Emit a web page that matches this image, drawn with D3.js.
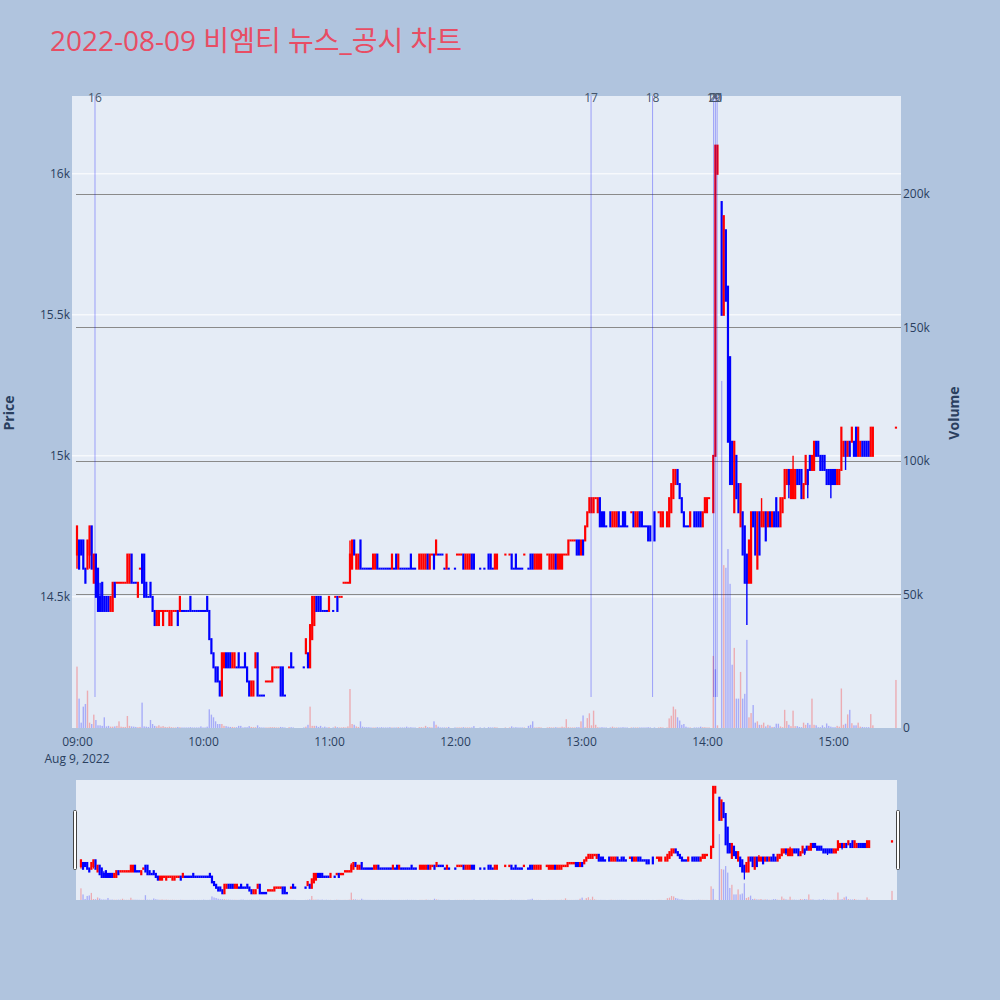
<!DOCTYPE html>
<html><head><meta charset="utf-8">
<script src="https://cdn.jsdelivr.net/npm/d3@7"></script>
<style>
body{margin:0;background:#b0c4de;}
svg{display:block;font-family:"Open Sans","Noto Sans CJK KR",sans-serif;}
</style>
</head><body>
<svg id="c" width="1000" height="1000"></svg>
<script>
// ---------------- DATA ----------------
const titleText = "2022-08-09 비엠티 뉴스_공시 차트";
const chartDate = [2022, 7, 9];
// minutes after 09:00 for every 1-minute candle
const minutesFrom0900 = [
0,1,2,3,4,5,6,7,8,9,
10,11,12,13,14,15,16,17,18,19,
20,21,22,23,24,25,26,27,28,29,
30,31,32,33,34,35,36,37,38,39,
40,41,42,43,44,45,46,47,48,49,
50,51,52,53,54,55,56,57,58,59,
60,61,62,63,64,65,66,67,68,69,
70,71,72,73,74,75,76,77,78,79,
80,81,82,83,84,85,86,87,88,89,
90,91,92,93,94,95,96,97,98,99,
101,102,103,108,109,110,111,112,113,114,
115,116,117,118,119,120,122,123,124,125,
126,127,128,129,130,131,132,133,134,135,
136,137,138,139,140,141,142,143,144,145,
146,147,148,149,150,151,152,153,154,155,
156,157,158,159,160,161,163,164,165,166,
167,168,169,170,171,172,173,174,175,176,
177,180,181,182,183,184,185,186,187,188,
189,192,194,196,197,198,199,200,204,206,
207,208,209,210,211,212,213,215,216,217,
218,219,220,221,224,225,226,227,228,229,
230,231,232,233,234,235,236,237,238,239,
240,241,242,243,244,245,246,247,248,249,
250,251,252,254,255,256,257,258,259,260,
261,262,264,265,266,267,268,269,270,271,
272,273,275,277,278,279,281,282,283,284,
285,286,287,288,289,290,291,292,294,295,
296,297,298,299,300,301,303,304,305,307,
308,309,310,311,312,313,314,315,316,317,
318,319,320,321,322,323,324,325,326,327,
328,329,330,331,332,333,334,335,336,337,
338,339,340,341,342,343,344,345,346,347,
348,349,350,351,352,353,354,355,356,357,
358,359,360,361,362,363,364,365,366,367,
368,369,370,371,372,373,374,375,376,377,
378,379,390];
const opens = [
14650,14700,14700,14700,14600,14600,14650,14750,14550,14650,
14600,14500,14550,14500,14500,14500,14450,14450,14550,14550,
14550,14550,14550,14550,14550,14550,14650,14550,14550,14500,
14600,14650,14650,14550,14500,14550,14500,14450,14400,14400,
14450,14400,14450,14450,14400,14400,14450,14450,14450,14450,
14450,14450,14450,14450,14500,14450,14450,14450,14450,14450,
14450,14450,14500,14450,14350,14300,14250,14250,14200,14150,
14250,14300,14300,14300,14250,14250,14250,14300,14250,14250,
14300,14250,14200,14150,14150,14250,14300,14150,14150,14150,
14200,14200,14200,14200,14250,14250,14250,14250,14250,14150,
14250,14300,14250,14250,14300,14300,14250,14350,14400,14500,
14500,14500,14450,14450,14450,14450,14450,14500,14500,14500,
14500,14550,14550,14550,14550,14600,14700,14600,14600,14700,
14600,14600,14600,14600,14600,14600,14600,14650,14600,14600,
14600,14600,14600,14600,14600,14600,14650,14600,14600,14600,
14600,14600,14600,14650,14600,14600,14600,14600,14600,14600,
14650,14600,14650,14650,14650,14650,14650,14650,14600,14600,
14600,14600,14650,14650,14650,14650,14600,14600,14600,14650,
14650,14600,14600,14650,14650,14600,14600,14600,14650,14650,
14650,14600,14650,14600,14600,14600,14650,14600,14650,14650,
14600,14600,14600,14600,14650,14600,14600,14600,14650,14600,
14600,14600,14650,14650,14650,14700,14700,14700,14700,14700,
14650,14700,14700,14750,14800,14800,14800,14850,14800,14850,
14800,14800,14750,14800,14750,14750,14750,14800,14750,14800,
14800,14750,14800,14800,14750,14750,14800,14800,14750,14750,
14750,14750,14800,14800,14750,14750,14750,14750,14800,14850,
14900,14950,14900,14850,14800,14750,14750,14750,14800,14800,
14800,14800,14750,14800,14800,14850,14800,15000,16000,15900,
15500,15800,15600,15350,15050,14800,15000,14900,14750,14800,
14750,14650,14550,14550,14800,14800,14600,14800,14750,14750,
14800,14750,14800,14750,14800,14850,14800,14750,14800,14850,
14900,14950,14850,14850,14850,14950,14950,14950,14850,14900,
14950,15000,14950,14950,15050,15050,15000,15000,15000,14950,
14950,14950,14950,14950,14900,14900,14950,15000,15050,15000,
15050,15050,15050,15100,15000,15000,15050,15050,15050,15050,
15000,15000,15100];
const highs = [
14750,14700,14700,14700,14600,14700,14750,14750,14650,14650,
14600,14550,14550,14500,14500,14500,14500,14550,14550,14550,
14550,14550,14550,14550,14650,14650,14650,14550,14550,14550,
14600,14650,14650,14550,14500,14550,14500,14450,14450,14450,
14450,14450,14450,14450,14450,14450,14450,14450,14450,14500,
14450,14450,14450,14450,14500,14450,14450,14450,14450,14450,
14450,14450,14500,14450,14350,14300,14250,14250,14200,14300,
14300,14300,14300,14300,14300,14300,14250,14300,14250,14250,
14300,14250,14200,14200,14200,14300,14300,14150,14150,14150,
14200,14200,14200,14250,14250,14250,14250,14250,14250,14150,
14250,14300,14250,14250,14350,14300,14400,14500,14500,14500,
14500,14500,14450,14450,14450,14500,14450,14500,14500,14500,
14500,14550,14550,14550,14700,14700,14700,14650,14650,14700,
14600,14600,14600,14600,14600,14650,14650,14650,14600,14600,
14600,14600,14600,14600,14650,14600,14650,14650,14600,14600,
14600,14600,14600,14650,14600,14600,14650,14650,14650,14650,
14650,14650,14650,14650,14700,14650,14650,14650,14600,14650,
14600,14600,14650,14650,14650,14650,14650,14650,14650,14650,
14650,14600,14600,14650,14650,14600,14650,14650,14650,14650,
14650,14600,14650,14600,14600,14600,14650,14600,14650,14650,
14650,14650,14650,14650,14650,14650,14650,14650,14650,14650,
14650,14650,14650,14650,14700,14700,14700,14700,14700,14700,
14700,14700,14750,14800,14850,14850,14850,14850,14850,14850,
14800,14800,14750,14800,14800,14800,14800,14800,14750,14800,
14800,14750,14800,14800,14800,14800,14800,14800,14750,14750,
14750,14750,14800,14800,14800,14800,14800,14850,14900,14950,
14950,14950,14900,14850,14800,14750,14750,14800,14800,14800,
14800,14800,14800,14850,14850,14850,15000,16100,16100,15900,
15850,15800,15600,15350,15050,15050,15000,14900,14900,14800,
14750,14650,14700,14800,14800,14800,14800,14800,14850,14800,
14800,14800,14800,14800,14800,14850,14800,14850,14850,14950,
14950,14950,14950,15000,14950,14950,14950,14950,14900,15000,
14950,15000,15000,15050,15050,15050,15000,15000,15000,14950,
14950,14950,14950,14950,14950,14950,15100,15050,15050,15050,
15050,15100,15050,15100,15100,15050,15050,15050,15050,15050,
15100,15100,15100];
const lows = [
14600,14600,14650,14600,14550,14600,14600,14600,14550,14500,
14450,14450,14450,14450,14450,14450,14450,14450,14500,14550,
14550,14550,14550,14550,14550,14550,14550,14550,14550,14500,
14600,14550,14500,14500,14500,14500,14450,14400,14400,14400,
14450,14400,14450,14450,14400,14400,14450,14450,14400,14450,
14450,14450,14450,14450,14450,14450,14450,14450,14450,14450,
14450,14450,14450,14350,14300,14250,14200,14200,14150,14150,
14250,14250,14250,14250,14250,14250,14250,14250,14250,14250,
14250,14200,14150,14150,14150,14250,14150,14150,14150,14150,
14200,14200,14200,14200,14250,14250,14250,14150,14150,14150,
14250,14250,14250,14250,14300,14250,14250,14350,14400,14450,
14450,14450,14450,14450,14450,14450,14450,14500,14450,14500,
14500,14550,14550,14550,14550,14600,14650,14600,14600,14600,
14600,14600,14600,14600,14600,14600,14600,14600,14600,14600,
14600,14600,14600,14600,14600,14600,14600,14600,14600,14600,
14600,14600,14600,14600,14600,14600,14600,14600,14600,14600,
14600,14600,14650,14600,14650,14650,14650,14650,14600,14600,
14600,14600,14650,14650,14650,14600,14600,14600,14600,14600,
14600,14600,14600,14600,14600,14600,14600,14600,14650,14650,
14600,14600,14600,14600,14600,14600,14650,14600,14600,14600,
14600,14600,14600,14600,14650,14600,14600,14600,14600,14600,
14600,14600,14650,14650,14650,14700,14700,14700,14650,14650,
14650,14650,14700,14750,14800,14800,14800,14850,14800,14750,
14750,14750,14750,14750,14750,14750,14750,14750,14750,14750,
14750,14750,14800,14750,14750,14750,14750,14750,14750,14750,
14700,14700,14700,14800,14750,14750,14750,14750,14800,14850,
14900,14900,14850,14800,14750,14750,14750,14750,14750,14750,
14750,14750,14750,14800,14800,14850,14800,15000,16000,15500,
15500,15550,15050,14900,14900,14800,14850,14800,14750,14650,
14550,14400,14550,14550,14750,14650,14600,14650,14750,14750,
14700,14750,14750,14750,14750,14750,14750,14750,14800,14850,
14900,14850,14850,14850,14850,14900,14900,14850,14850,14900,
14850,14950,14950,14950,15000,15000,14950,14950,14950,14900,
14900,14850,14900,14900,14900,14900,14950,15000,14950,15000,
15000,15050,15000,15000,15000,15000,15000,15000,15000,15000,
15000,15000,15100];
const closes = [
14750,14600,14650,14600,14550,14700,14750,14600,14650,14500,
14450,14450,14450,14450,14450,14450,14500,14550,14500,14550,
14550,14550,14550,14550,14650,14650,14550,14550,14550,14550,
14600,14550,14500,14500,14500,14500,14450,14400,14450,14450,
14450,14450,14450,14450,14450,14450,14450,14450,14400,14500,
14450,14450,14450,14450,14450,14450,14450,14450,14450,14450,
14450,14450,14450,14350,14300,14250,14200,14200,14150,14300,
14300,14250,14250,14250,14300,14300,14250,14250,14250,14250,
14250,14200,14150,14200,14200,14300,14150,14150,14150,14150,
14200,14200,14200,14250,14250,14250,14250,14150,14150,14150,
14250,14250,14250,14250,14350,14250,14400,14500,14500,14450,
14450,14450,14450,14450,14450,14500,14450,14500,14450,14500,
14500,14550,14550,14550,14650,14700,14650,14650,14650,14600,
14600,14600,14600,14600,14600,14650,14650,14600,14600,14600,
14600,14600,14600,14600,14650,14600,14600,14650,14600,14600,
14600,14600,14600,14600,14600,14600,14650,14650,14650,14650,
14600,14650,14650,14600,14700,14650,14650,14650,14600,14650,
14600,14600,14650,14650,14650,14600,14650,14650,14650,14600,
14600,14600,14600,14600,14600,14600,14650,14650,14650,14650,
14600,14600,14600,14600,14600,14600,14650,14600,14600,14600,
14650,14650,14650,14650,14650,14650,14650,14650,14600,14650,
14650,14650,14650,14650,14700,14700,14700,14700,14650,14650,
14700,14650,14750,14800,14850,14850,14850,14850,14850,14750,
14750,14750,14750,14750,14800,14800,14800,14750,14750,14750,
14750,14750,14800,14750,14800,14800,14750,14750,14750,14750,
14700,14700,14700,14800,14800,14800,14800,14850,14900,14950,
14950,14900,14850,14800,14750,14750,14750,14800,14750,14750,
14750,14750,14800,14850,14850,14850,15000,16100,16100,15500,
15850,15550,15050,14900,14900,15050,14850,14800,14900,14650,
14550,14550,14700,14800,14750,14650,14800,14650,14800,14800,
14700,14800,14750,14800,14750,14750,14750,14850,14850,14950,
14950,14900,14950,14950,14950,14900,14900,14850,14900,15000,
14900,14950,15000,15050,15000,15000,14950,14950,14950,14900,
14900,14900,14900,14900,14950,14950,15100,15050,15000,15050,
15000,15100,15000,15000,15100,15050,15000,15000,15000,15000,
15100,15100,15100];
const volumes = [
23000,11000,2000,8000,9000,14000,2000,1500,5000,3000,
1000,1000,800,4000,600,800,500,500,600,800,
2500,500,400,400,4500,800,600,500,400,300,
400,9500,600,500,400,3000,1500,800,600,1000,
500,700,400,300,500,300,200,200,400,300,
200,200,200,200,300,200,200,200,200,600,
200,200,500,7000,5000,4000,2500,1500,1500,1500,
800,700,500,400,400,300,300,800,800,200,
300,300,700,400,300,300,1000,300,200,200,
200,200,300,300,300,200,200,400,300,200,
300,300,200,200,500,1200,8000,800,800,800,
400,800,200,500,200,300,200,600,300,200,
200,300,200,600,14600,1500,1200,600,400,2500,
500,300,300,300,200,200,200,300,200,300,
200,200,200,300,200,200,200,300,200,200,
200,500,200,300,200,200,300,300,200,800,
300,300,200,2500,1200,500,200,200,200,200,
400,200,200,200,200,300,200,200,200,200,
700,200,200,300,200,200,300,200,200,200,
600,200,300,200,200,200,200,800,1200,2500,
200,200,300,200,200,300,200,200,300,200,
200,500,300,3300,300,200,200,200,300,300,
2500,4700,300,3700,5500,1000,6500,1200,300,200,
300,200,200,200,500,200,200,200,200,300,
200,200,200,200,200,200,200,200,200,200,
300,200,200,200,300,200,200,3600,4600,8000,
7000,4000,2800,1200,1500,500,200,200,200,200,
200,500,300,300,200,200,27000,22000,1000,130000,
61000,60000,67000,54000,23700,30000,11000,11000,21000,11000,
12800,33000,4000,5600,8600,2000,2500,1200,1200,2000,
600,1200,900,400,400,1600,1600,600,300,6800,
2600,1200,700,6500,700,700,400,300,2000,1200,
1900,1200,11000,1200,1000,300,300,1000,300,1700,
800,500,300,300,800,500,14800,1200,1600,5100,
6800,1800,1000,1000,2000,500,400,300,300,300,
5200,1000,18000];
const blueVolumeMinutes = [304];
const priceTicks = [14500, 15000, 15500, 16000];
const volumeTicks = [0, 50000, 100000, 150000, 200000];
const hourTickLabels = ["09:00","10:00","11:00","12:00","13:00","14:00","15:00"];
const dateLabel = "Aug 9, 2022";
const newsLabels = ["16","17","18","19","20","21"];
const newsTimes = ["09:08:34","13:04:48","13:34:06","14:03:10","14:04:00","14:04:50"];
const priceTitle = "Price", volumeTitle = "Volume";

// ---------------- CHART ----------------
const svg = d3.select("#c");
const toDate = (h, m, s) => new Date(chartDate[0], chartDate[1], chartDate[2], h, m, s || 0);
const parseT = str => { const p = str.split(":").map(Number); return toDate(p[0], p[1], p[2] || 0); };
const t0 = toDate(9, 0, 0).getTime();
const minDate = m => new Date(t0 + m * 60000);

const n = minutesFrom0900.length;
const rows = d3.range(n).map(i => ({
  t: minDate(minutesFrom0900[i]), m: minutesFrom0900[i],
  o: opens[i], h: highs[i], l: lows[i], c: closes[i], v: volumes[i]
}));
// plotly-like direction (flat candles take the direction vs previous close)
rows.forEach((r, i) => {
  if (r.c > r.o) r.up = true;
  else if (r.c < r.o) r.up = false;
  else if (i > 0 && r.c > rows[i-1].c) r.up = true;
  else if (i > 0 && r.c < rows[i-1].c) r.up = false;
  else r.up = i > 0 ? rows[i-1].up : true;
  r.vup = blueVolumeMinutes.includes(r.m) ? false : r.up;
});

const X0 = 72, X1 = 901, Y0 = 96, Y1 = 728;
const xDomain = [minDate(-2.38), minDate(392.4)];
const x = d3.scaleTime().domain(xDomain).range([X0, X1]);
const y = d3.scaleLinear().domain([14035, 16276]).range([Y1, Y0]);
const yv = d3.scaleLinear().domain([0, 236700]).range([Y1, Y0]);

const UP = "#ff0000", DN = "#0000ff";
const txt = "#2a3f5f";

svg.append("rect").attr("width", 1000).attr("height", 1000).attr("fill", "#b0c4de");
svg.append("text").attr("x", 50).attr("y", 51).attr("font-size", 28)
  .attr("fill", "#e84d64").text(titleText);

svg.append("rect").attr("x", X0).attr("y", Y0).attr("width", X1 - X0).attr("height", Y1 - Y0).attr("fill", "#e5ecf6");
svg.append("defs").append("clipPath").attr("id", "pc")
  .append("rect").attr("x", X0).attr("y", Y0).attr("width", X1 - X0).attr("height", Y1 - Y0);

// grids
svg.append("g").selectAll("line").data(priceTicks).join("line")
  .attr("x1", X0).attr("x2", X1).attr("y1", d => y(d)).attr("y2", d => y(d))
  .attr("stroke", "#ffffff").attr("stroke-width", 1);
svg.append("g").selectAll("line").data(volumeTicks.filter(d => d > 0)).join("line")
  .attr("x1", X0 + 4).attr("x2", X1).attr("y1", d => Math.round(yv(d)) + 0.5).attr("y2", d => Math.round(yv(d)) + 0.5)
  .attr("stroke", "#8a8a8a").attr("stroke-width", 1);

// axes (labels only)
const fmt = d3.format("~s");
const axL = svg.append("g").attr("transform", `translate(${X0},0)`)
  .call(d3.axisLeft(y).tickValues(priceTicks).tickFormat(fmt).tickSize(0).tickPadding(2));
const axR = svg.append("g").attr("transform", `translate(${X1},0)`)
  .call(d3.axisRight(yv).tickValues(volumeTicks).tickFormat(fmt).tickSize(0).tickPadding(2));
[axL, axR].forEach(a => {
  a.select(".domain").remove();
  a.selectAll("text").attr("font-size", 12).attr("fill", txt)
    .attr("font-family", '"Open Sans", sans-serif');
});
const hourDates = hourTickLabels.map(parseT);
const axB = svg.append("g").attr("transform", `translate(0,${Y1})`)
  .call(d3.axisBottom(x).tickValues(hourDates).tickFormat(d3.timeFormat("%H:%M")).tickSize(0).tickPadding(9));
axB.select(".domain").remove();
axB.selectAll("text").attr("font-size", 12).attr("fill", txt).attr("font-family", '"Open Sans", sans-serif');
svg.append("text").attr("x", x(hourDates[0])).attr("y", 763).attr("text-anchor", "middle")
  .attr("font-size", 12).attr("fill", txt).text(dateLabel);

svg.append("text").attr("transform", "translate(14,413) rotate(-90)").attr("text-anchor", "middle")
  .attr("font-size", 14).attr("font-weight", "bold").attr("fill", txt).text(priceTitle);
svg.append("text").attr("transform", "translate(959,413) rotate(-90)").attr("text-anchor", "middle")
  .attr("font-size", 14).attr("font-weight", "bold").attr("fill", txt).text(volumeTitle);

// draw candles + volume into a group with given scales
function drawSeries(g, xs, ys, yvs, opt) {
  g.append("g").selectAll("rect").data(rows).join("rect")
    .attr("x", d => xs(d.t) - opt.vw / 2).attr("width", opt.vw)
    .attr("y", d => yvs(d.v)).attr("height", d => Math.max(0, yvs(0) - yvs(d.v)))
    .attr("fill", d => d.vup ? "rgba(255,0,0,0.27)" : "rgba(0,0,255,0.27)");
  const cg = g.append("g");
  cg.selectAll("line").data(rows.filter(d => d.h > Math.max(d.o, d.c) || d.l < Math.min(d.o, d.c))).join("line")
    .attr("x1", d => xs(d.t)).attr("x2", d => xs(d.t))
    .attr("y1", d => ys(d.h)).attr("y2", d => ys(d.l))
    .attr("stroke", d => d.up ? UP : DN).attr("stroke-width", opt.ww);
  cg.selectAll("rect").data(rows).join("rect")
    .attr("x", d => xs(d.t) - opt.bw / 2).attr("width", opt.bw)
    .attr("y", d => ys(Math.max(d.o, d.c)) - opt.pad)
    .attr("height", d => ys(Math.min(d.o, d.c)) - ys(Math.max(d.o, d.c)) + 2 * opt.pad)
    .attr("fill", d => d.up ? UP : DN);
}

const main = svg.append("g").attr("clip-path", "url(#pc)");
drawSeries(main, x, y, yv, { vw: 1.4, bw: 2.2, ww: 1.4, pad: 1 });

// news vertical lines (above traces)
const newsDates = newsTimes.map(parseT);
svg.append("g").selectAll("line").data(newsDates).join("line")
  .attr("x1", d => x(d)).attr("x2", d => x(d)).attr("y1", Y0).attr("y2", 697)
  .attr("stroke", "rgba(0,0,255,0.33)").attr("stroke-width", 1);
svg.append("g").selectAll("text").data(newsLabels).join("text")
  .attr("x", (d, i) => x(newsDates[i])).attr("y", 102).attr("text-anchor", "middle")
  .attr("font-size", 12).attr("fill", "#44546a").text(d => d);

// range slider
const SX0 = 76, SX1 = 897, SY0 = 780, SY1 = 900;
const xs = d3.scaleTime().domain(xDomain).range([SX0, SX1]);
const ys = d3.scaleLinear().domain([14023, 16229]).range([SY1, SY0]);
const yvs = d3.scaleLinear().domain([0, 236700]).range([SY1, SY0]);
svg.append("rect").attr("x", SX0).attr("y", SY0).attr("width", SX1 - SX0).attr("height", SY1 - SY0).attr("fill", "#e5ecf6");
svg.append("defs").append("clipPath").attr("id", "sc")
  .append("rect").attr("x", SX0).attr("y", SY0).attr("width", SX1 - SX0).attr("height", SY1 - SY0);
const sl = svg.append("g").attr("clip-path", "url(#sc)");
drawSeries(sl, xs, ys, yvs, { vw: 1.3, bw: 2.2, ww: 1.2, pad: 1.2 });
[SX0 - 2.5, SX1 - 0.5].forEach(hx => {
  svg.append("rect").attr("x", hx).attr("y", 810.5).attr("width", 3).attr("height", 59)
    .attr("rx", 1).attr("fill", "#ffffff").attr("stroke", "#444").attr("stroke-width", 1);
});
</script>
</body></html>
